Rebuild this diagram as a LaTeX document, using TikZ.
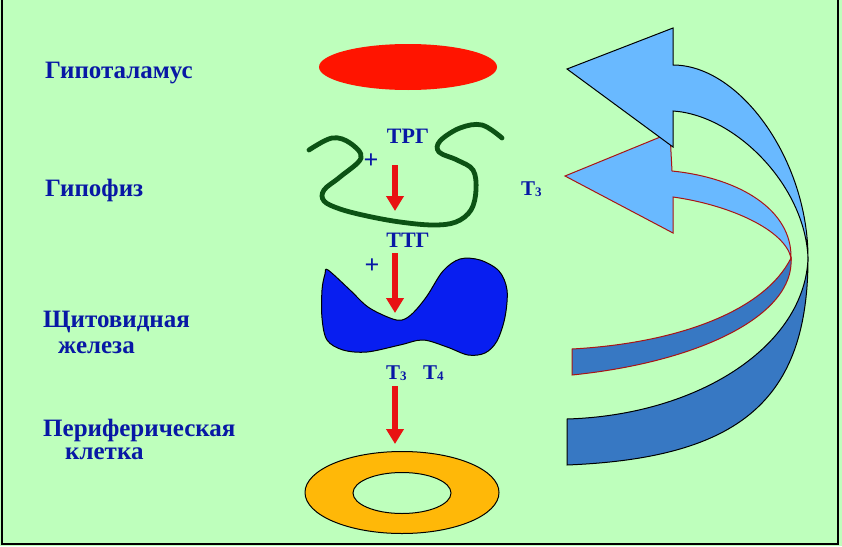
\documentclass[tikz,border=0pt]{standalone}
\usepackage{fontspec}
\setmainfont{Liberation Serif}
\usetikzlibrary{arrows.meta,shapes.geometric}
\definecolor{bg}{RGB}{190,255,188}
\definecolor{navy}{RGB}{8,24,165}
\definecolor{hred}{RGB}{255,20,0}
\definecolor{arrred}{RGB}{232,18,18}
\definecolor{dkgreen}{RGB}{12,82,20}
\definecolor{tblue}{RGB}{8,30,240}
\definecolor{ringc}{RGB}{255,184,8}
\definecolor{lightb}{RGB}{105,185,255}
\definecolor{darkb}{RGB}{55,120,195}
\definecolor{outlred}{RGB}{170,20,20}
\newcommand{\mysub}[1]{\raisebox{-1pt}{\fontsize{13}{13}\selectfont #1}}
\begin{document}
\begin{tikzpicture}[x=1pt,y=-1pt,
  lbl/.style={font=\bfseries\fontsize{25}{28}\selectfont, text=navy, inner sep=0pt, anchor=base west},
  mid/.style={font=\bfseries\fontsize{22}{26}\selectfont, text=navy, inner sep=0pt, anchor=base},
  tlbl/.style={font=\bfseries\fontsize{21}{24}\selectfont, text=navy, inner sep=0pt, anchor=base west},
  plus/.style={font=\bfseries\fontsize{26}{28}\selectfont, text=navy, inner sep=0pt},
  hormarrow/.style={draw=arrred, line width=6pt, -{Triangle[width=17pt,length=15pt]}},
  lightpart/.style={fill=lightb, line width=1pt, line join=miter},
  darkpart/.style={fill=darkb, line width=1pt},
]
\fill[bg] (0,0) rectangle (842,546);
\useasboundingbox (0,0) rectangle (842,546);
\draw[black, line width=1.5pt] (2,0) -- (2,544) -- (838,544) -- (838,0);

% labels
\node[lbl] (l1) at (45,78) {Гипоталамус};
\node[lbl] (l2) at (45,196) {Гипофиз};
\node[lbl] (l3) at (43,327) {Щитовидная};
\node[lbl] (l3b) at (58,353) {железа};
\node[lbl] (l4) at (43,436) {Периферическая};
\node[lbl] (l4b) at (65,459) {клетка};

% hypothalamus
\node[ellipse, fill=hred, minimum width=178pt, minimum height=46pt, inner sep=0pt] (hyp) at (408,67) {};

% pituitary
\draw[dkgreen, line width=4.8pt, line cap=round] plot[smooth, tension=0.6] coordinates {
 (309,150) (332,138) (350,143) (361,158) (340,177) (324,190) (324,201) (340,209)
 (367,216) (400,222) (433,225) (456,222) (471,210) (476,190) (473,170) (457,160)
 (439,152) (440,141) (460,128) (482,125) (502,138)};

\node[mid] (trg) at (408,143) {ТРГ};
\node[plus] (p1) at (371,161) {+};
\coordinate (a1s) at (395,165);
\coordinate (a1e) at (395,211);
\draw[hormarrow] (a1s) -- (a1e);

\node[tlbl] (t3r) at (521,195) {Т\mysub{3}};

\node[mid] (ttg) at (408,247) {ТТГ};
\node[plus] (p2) at (372,266) {+};

% thyroid
\draw[fill=tblue, draw=black, line width=1pt] plot[smooth cycle, tension=0.55] coordinates {
 (328,270) (350,290) (368,307) (390,318) (402,320) (413,313) (427,296) (443,271)
 (460,259) (480,260) (499,271) (507,290) (505,317) (497,341) (485,353) (468,355)
 (447,347) (423,340) (400,345) (367,352) (343,350) (327,340) (322,318) (322,290) (325,274)};

\coordinate (a2s) at (395,253);
\coordinate (a2e) at (395,313);
\draw[hormarrow] (a2s) -- (a2e);

\node[tlbl] (t3) at (386,379) {Т\mysub{3}};
\node[tlbl] (t4) at (423,379) {Т\mysub{4}};

\coordinate (a3s) at (395,386);
\coordinate (a3e) at (395,444);
\draw[hormarrow] (a3s) -- (a3e);

% peripheral cell
\node[ellipse, fill=ringc, draw=black, line width=1pt, minimum width=194pt, minimum height=82pt, inner sep=0pt] (cell) at (402,492.5) {};
\node[ellipse, fill=bg, draw=black, line width=1pt, minimum width=98pt, minimum height=41pt, inner sep=0pt] (cellin) at (402,493) {};

% small curved arrow (T3 to pituitary)
\draw[darkpart, draw=outlred] (791,258) .. controls (795,315) and (700,362) .. (572,375)
   -- (572,349) .. controls (680,343) and (765,310) .. (791,258) -- cycle;
\draw[lightpart, draw=outlred] (791,258) .. controls (792,210) and (740,178) .. (672,171)
   -- (670,133) -- (565,176) -- (673,233) -- (673,197)
   .. controls (730,205) and (785,230) .. (791,258) -- cycle;

% big curved arrow (to hypothalamus)
\draw[darkpart, draw=black] (808,258) .. controls (808,400) and (740,458) .. (567,465)
   -- (567,419) .. controls (700,415) and (805,345) .. (808,258) -- cycle;
\draw[lightpart, draw=black] (808,258) .. controls (808,160) and (740,65) .. (673,65)
   -- (673,28) -- (567,69) -- (673,147) -- (673,111)
   .. controls (735,115) and (805,185) .. (808,258) -- cycle;
\end{tikzpicture}
\end{document}
